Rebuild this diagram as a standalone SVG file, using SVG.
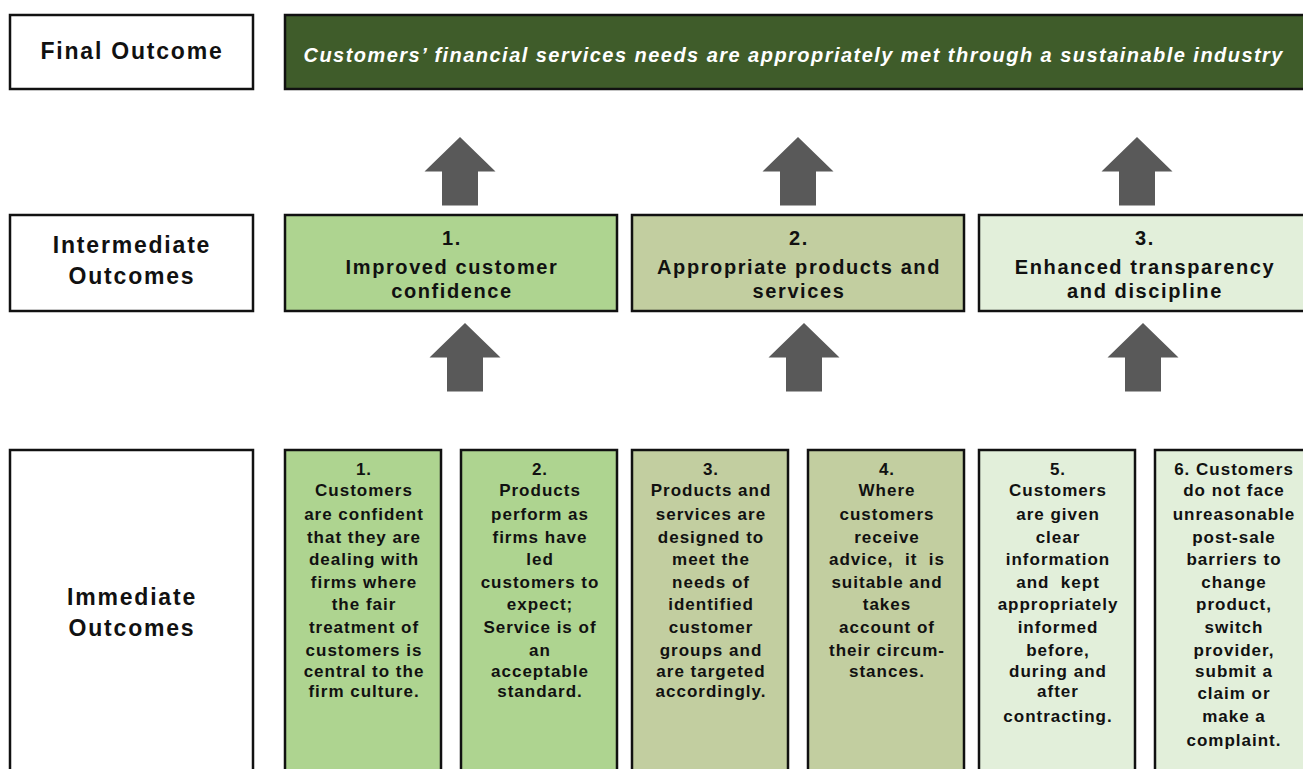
<svg xmlns="http://www.w3.org/2000/svg" width="1303" height="769" viewBox="0 0 1303 769">
<style>
text{font-family:"Liberation Sans",Arial,sans-serif;font-weight:bold;fill:#111;text-anchor:middle}
.box{stroke:#111;stroke-width:2.5}
.lbl{fill:#fff}
.lt{font-size:23px;letter-spacing:1.8px}
.mt{font-size:20px;letter-spacing:1.6px}
.st{font-size:17px;letter-spacing:1px}
.ban{font-size:20px;font-style:italic;fill:#fff}
.g1{fill:#aed490}
.g2{fill:#c2cea0}
.g3{fill:#e2efda}
.arr{fill:#595959}
</style>
<defs>
<path id="arrow" d="M0,0 L35.5,34.5 L18,34.5 L18,68.5 L-18,68.5 L-18,34.5 L-35.5,34.5 Z"/>
</defs>
<g id="connectors" class="arr">
<use href="#arrow" transform="translate(460,137)"/>
<use href="#arrow" transform="translate(798,137)"/>
<use href="#arrow" transform="translate(1137,137)"/>
<use href="#arrow" transform="translate(465,323)"/>
<use href="#arrow" transform="translate(804,323)"/>
<use href="#arrow" transform="translate(1143,323)"/>
</g>
<g id="label-final">
<rect class="box lbl" x="10" y="15" width="243" height="74"/>
<text class="lt" x="132" y="59">Final Outcome</text>
</g>
<g id="final-outcome">
<rect class="box" x="285" y="15" width="1030" height="74" fill="#3f5c2a"/>
<text class="ban" x="793" y="62" textLength="979" lengthAdjust="spacing">Customers’ financial services needs are appropriately met through a sustainable industry</text>
</g>
<g id="label-intermediate">
<rect class="box lbl" x="10" y="215" width="243" height="96"/>
<text class="lt" x="132" y="253">Intermediate</text>
<text class="lt" x="132" y="284">Outcomes</text>
</g>
<g id="int-1">
<rect class="box g1" x="285" y="215" width="332" height="96"/>
<text class="mt" x="452" y="245">1.</text>
<text class="mt" x="452" y="274">Improved customer</text>
<text class="mt" x="452" y="298">confidence</text>
</g>
<g id="int-2">
<rect class="box g2" x="632" y="215" width="332" height="96"/>
<text class="mt" x="799" y="245">2.</text>
<text class="mt" x="799" y="274">Appropriate products and</text>
<text class="mt" x="799" y="298">services</text>
</g>
<g id="int-3">
<rect class="box g3" x="979" y="215" width="340" height="96"/>
<text class="mt" x="1145" y="245">3.</text>
<text class="mt" x="1145" y="274">Enhanced transparency</text>
<text class="mt" x="1145" y="298">and discipline</text>
</g>
<g id="label-immediate">
<rect class="box lbl" x="10" y="450" width="243" height="330"/>
<text class="lt" x="132" y="605">Immediate</text>
<text class="lt" x="132" y="636">Outcomes</text>
</g>
<g id="imm-1">
<rect class="box g1" x="285" y="450" width="156" height="330"/>
<g class="st">
<text x="364" y="475">1.</text>
<text x="364" y="496">Customers</text>
<text x="364" y="520">are confident</text>
<text x="364" y="543">that they are</text>
<text x="364" y="565">dealing with</text>
<text x="364" y="588">firms where</text>
<text x="364" y="610">the fair</text>
<text x="364" y="633">treatment of</text>
<text x="364" y="656">customers is</text>
<text x="364" y="677">central to the</text>
<text x="364" y="697">firm culture.</text>
</g>
</g>
<g id="imm-2">
<rect class="box g1" x="461" y="450" width="156" height="330"/>
<g class="st">
<text x="540" y="475">2.</text>
<text x="540" y="496">Products</text>
<text x="540" y="520">perform as</text>
<text x="540" y="543">firms have</text>
<text x="540" y="565">led</text>
<text x="540" y="588">customers to</text>
<text x="540" y="610">expect;</text>
<text x="540" y="633">Service is of</text>
<text x="540" y="656">an</text>
<text x="540" y="677">acceptable</text>
<text x="540" y="697">standard.</text>
</g>
</g>
<g id="imm-3">
<rect class="box g2" x="632" y="450" width="156" height="330"/>
<g class="st">
<text x="711" y="475">3.</text>
<text x="711" y="496">Products and</text>
<text x="711" y="520">services are</text>
<text x="711" y="543">designed to</text>
<text x="711" y="565">meet the</text>
<text x="711" y="588">needs of</text>
<text x="711" y="610">identified</text>
<text x="711" y="633">customer</text>
<text x="711" y="656">groups and</text>
<text x="711" y="677">are targeted</text>
<text x="711" y="697">accordingly.</text>
</g>
</g>
<g id="imm-4">
<rect class="box g2" x="808" y="450" width="156" height="330"/>
<g class="st">
<text x="887" y="475">4.</text>
<text x="887" y="496">Where</text>
<text x="887" y="520">customers</text>
<text x="887" y="543">receive</text>
<text x="887" y="565" xml:space="preserve">advice,  it  is</text>
<text x="887" y="588">suitable and</text>
<text x="887" y="610">takes</text>
<text x="887" y="633">account of</text>
<text x="887" y="656">their circum-</text>
<text x="887" y="677">stances.</text>
</g>
</g>
<g id="imm-5">
<rect class="box g3" x="979" y="450" width="156" height="330"/>
<g class="st">
<text x="1058" y="475">5.</text>
<text x="1058" y="496">Customers</text>
<text x="1058" y="520">are given</text>
<text x="1058" y="543">clear</text>
<text x="1058" y="565">information</text>
<text x="1058" y="588" xml:space="preserve">and  kept</text>
<text x="1058" y="610">appropriately</text>
<text x="1058" y="633">informed</text>
<text x="1058" y="656">before,</text>
<text x="1058" y="677">during and</text>
<text x="1058" y="697">after</text>
<text x="1058" y="722">contracting.</text>
</g>
</g>
<g id="imm-6">
<rect class="box g3" x="1155" y="450" width="160" height="330"/>
<g class="st">
<text x="1234" y="475">6. Customers</text>
<text x="1234" y="496">do not face</text>
<text x="1234" y="520">unreasonable</text>
<text x="1234" y="543">post-sale</text>
<text x="1234" y="565">barriers to</text>
<text x="1234" y="588">change</text>
<text x="1234" y="610">product,</text>
<text x="1234" y="633">switch</text>
<text x="1234" y="656">provider,</text>
<text x="1234" y="677">submit a</text>
<text x="1234" y="699">claim or</text>
<text x="1234" y="722">make a</text>
<text x="1234" y="746">complaint.</text>
</g>
</g>
</svg>
